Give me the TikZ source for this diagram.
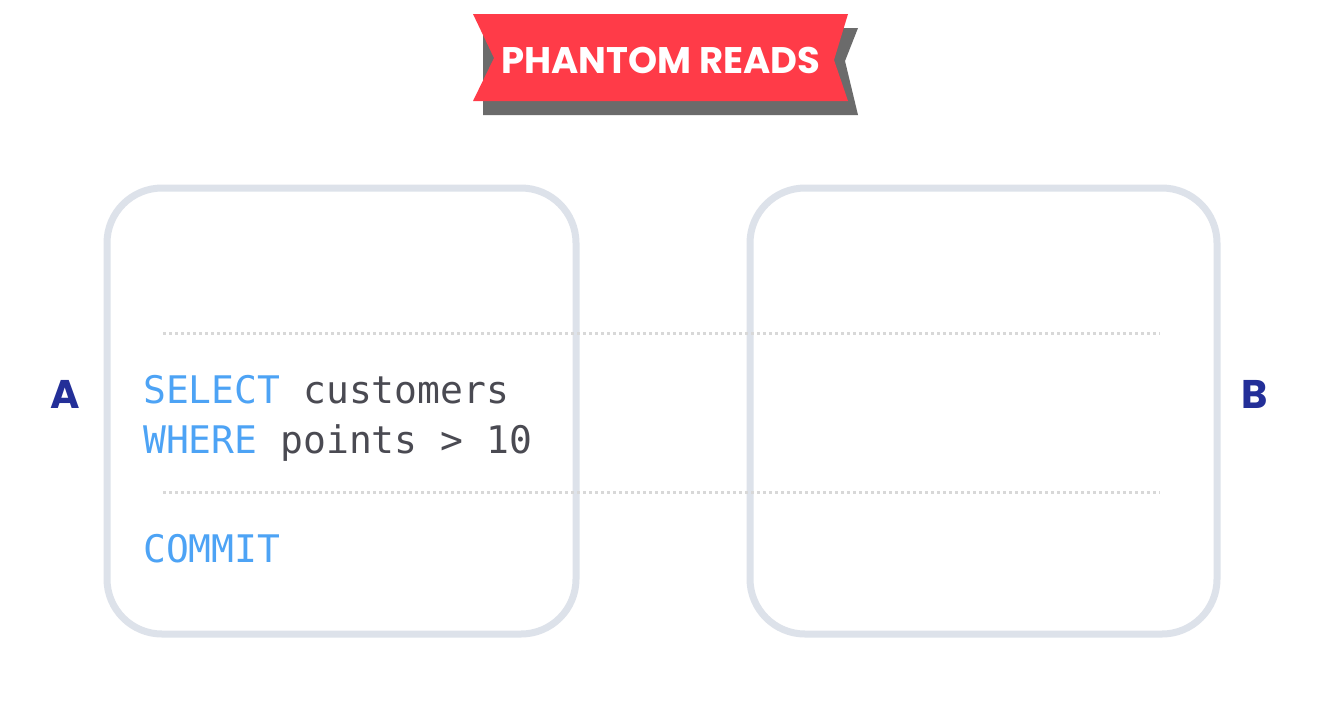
\documentclass[tikz,border=0pt]{standalone}
\usepackage{fontspec}
\setmainfont{Poppins}
\newfontfamily\codefont{DejaVu Sans Mono}
\newfontfamily\bannerfont{Poppins}
\definecolor{bannerred}{HTML}{FF3B48}
\definecolor{bannershadow}{HTML}{6B6B6B}
\definecolor{boxline}{HTML}{DDE2EA}
\definecolor{dotline}{HTML}{D8D8D8}
\definecolor{kwblue}{HTML}{4DA3F5}
\definecolor{codegray}{HTML}{4A4A52}
\definecolor{labelnavy}{HTML}{232F98}
\tikzset{
  txbox/.style={draw=boxline, line width=7pt, rounded corners=55pt},
  sep/.style={draw=dotline, line width=3pt, dash pattern=on 3pt off 3pt},
  code/.style={anchor=base west, inner sep=0pt, font=\codefont\fontsize{38}{38}\selectfont},
  side/.style={anchor=base, inner sep=0pt, text=labelnavy, font=\fontsize{40}{40}\selectfont\bfseries},
}
\begin{document}
\begin{tikzpicture}[x=1pt, y=-1pt]
\useasboundingbox[fill=white] (0,0) rectangle (1329,716);
% banner shadow
\fill[bannershadow] (483,28) -- (858,28) -- (845,61) -- (858,115) -- (483,115) -- cycle;
% banner
\fill[bannerred] (473,14) -- (848,14) -- (834,60) -- (848,101) -- (473,101) -- (494,58) -- cycle;
\node[inner sep=0pt, anchor=base, text=white, font=\bannerfont\fontsize{37}{37}\selectfont\bfseries] (title) at (661,73) {PHANTOM READS};
% separators
\coordinate (s1a) at (163,333); \coordinate (s1b) at (1160,333);
\coordinate (s2a) at (163,492); \coordinate (s2b) at (1160,492);
% boxes
\draw[txbox] (107,188) rectangle (576,634);
\draw[txbox] (750,188) rectangle (1217,634);
\draw[sep] (s1a) -- (s1b);
\draw[sep] (s2a) -- (s2b);
% code
\node[code] (l1) at (143,403) {\textcolor{kwblue}{SELECT} \textcolor{codegray}{customers}};
\node[code] (l2) at (143,453) {\textcolor{kwblue}{WHERE} \textcolor{codegray}{points > 10}};
\node[code] (l3) at (143,562) {\textcolor{kwblue}{COMMIT}};
% labels
\node[side] (A) at (65,408) {A};
\node[side] (B) at (1255,408) {B};
\end{tikzpicture}
\end{document}
